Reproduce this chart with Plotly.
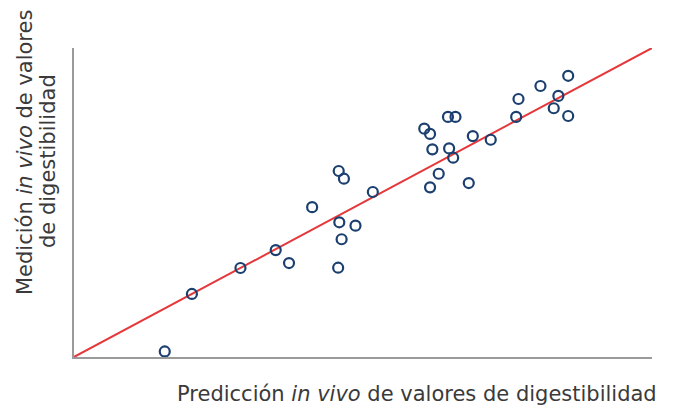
import plotly.graph_objects as go

pred = [15.7, 20.4, 28.8, 34.9, 37.2, 41.2, 45.8, 46.7, 45.9, 46.3, 45.7, 48.7,
        51.7, 60.6, 61.6, 62.0, 64.7, 66.0, 64.9, 65.6, 63.1, 61.6, 68.3, 69.0,
        72.1, 76.5, 76.9, 80.7, 85.5, 83.8, 83.0, 85.5]
meas = [1.8, 20.4, 28.8, 34.6, 30.4, 48.5, 60.2, 57.7, 43.6, 38.1, 28.9, 42.5,
        53.4, 73.9, 72.2, 67.2, 77.7, 77.7, 67.5, 64.5, 59.3, 54.9, 56.3, 71.5,
        70.3, 77.7, 83.5, 87.7, 91.0, 84.5, 80.5, 78.0]

line_x = [0, 100]
line_y = [0, 100]

x_title = "Predicción <i>in vivo</i> de valores de digestibilidad"
y_title_lines = ["Medición <i>in vivo</i> de valores", "de digestibilidad"]

# page has an 8px body margin, so the figure sits at (8, 8)
OFF = 8
W, H = 689 - OFF, 408 - OFF
L, T = 74 - OFF, 48 - OFF
R = W - (652 - OFF)
B = H - (357 - OFF)
pw = W - L - R
ph = H - T - B


def px_to_paper(px, py):
    fx = (px - OFF - L) / pw
    fy = (H - B - (py - OFF)) / ph
    return fx, fy


font = dict(family="DejaVu Sans, sans-serif", size=21, color="#3a3a3a")

fig = go.Figure()

fig.add_trace(
    go.Scatter(
        x=line_x,
        y=line_y,
        mode="lines",
        line=dict(color="#e5383b", width=2),
        hoverinfo="skip",
    )
)

fig.add_trace(
    go.Scatter(
        x=pred,
        y=meas,
        mode="markers",
        marker=dict(
            symbol="circle-open",
            size=10,
            color="#1b3f6e",
            line=dict(width=2.2, color="#1b3f6e"),
        ),
    )
)

axis = dict(
    range=[0, 100],
    showline=True,
    linecolor="#9a9a9a",
    linewidth=2,
    showgrid=False,
    zeroline=False,
    showticklabels=False,
    ticks="",
    fixedrange=True,
)

annotations = []
ax, ay = px_to_paper(417, 394)
annotations.append(dict(
    text=x_title, xref="paper", yref="paper", x=ax, y=ay,
    xanchor="center", yanchor="middle", showarrow=False, font=font,
))
for (cx, cy), txt in zip([(25, 153), (48, 161)], y_title_lines):
    ax, ay = px_to_paper(cx, cy)
    annotations.append(dict(
        text=txt, xref="paper", yref="paper", x=ax, y=ay,
        xanchor="center", yanchor="middle", textangle=-90,
        showarrow=False, font=font,
    ))

fig.update_layout(
    width=W,
    height=H,
    showlegend=False,
    plot_bgcolor="white",
    paper_bgcolor="white",
    margin=dict(l=L, r=R, t=T, b=B),
    xaxis=axis,
    yaxis=axis,
    font=font,
    annotations=annotations,
)

fig.write_html("out.html")
